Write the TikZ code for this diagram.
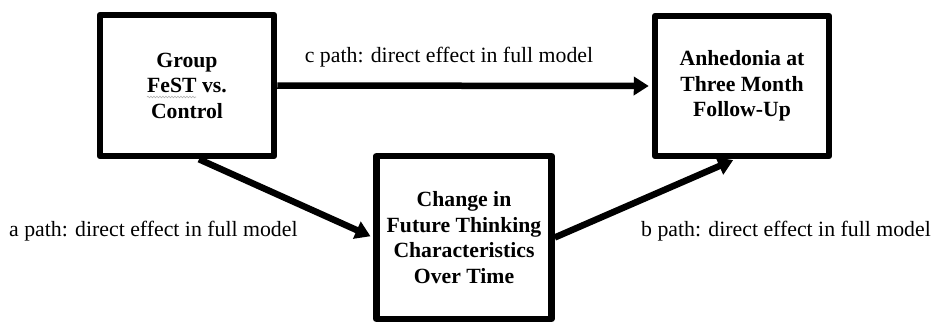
\documentclass[tikz,border=0pt]{standalone}
\usepackage{fontspec}
\setmainfont{Liberation Serif}[BoldFont={Liberation Serif Bold}]
\usetikzlibrary{arrows.meta,decorations.pathmorphing}
\begin{document}
\begin{tikzpicture}[x=1pt,y=-1pt,
  box/.style={draw=black,line width=6.5pt,line join=round,fill=white,
    inner sep=0pt,align=center,
    font=\fontsize{21.7}{25.5}\selectfont\bfseries},
  arr/.style={line width=6.5pt,-{Triangle[length=15pt,width=18pt]}},
  lbl/.style={inner sep=0pt,font=\fontsize{21.8}{25}\selectfont}]
\useasboundingbox[fill=white] (0,0) rectangle (932,322);
\node[box,minimum width=174pt,minimum height=141pt] (grp) at (187,85.5)
  {Group\\FeST vs.\\Control};
\node[box,minimum width=174pt,minimum height=140pt] (anh) at (742,86)
  {Anhedonia at\\Three Month\\Follow-Up};
\node[box,minimum width=175pt,minimum height=163pt] (mid) at (464,237.5)
  {Change in\\Future Thinking\\Characteristics\\Over Time};
\draw[arr,shorten >=3pt] (grp.east) -- (anh.west);
\draw[arr,shorten >=3pt] ([xshift=12pt]grp.south) -- (mid.west);
\draw[arr,shorten >=2pt] (mid.east) -- ([xshift=-7pt]anh.south);
\node[lbl] (lc) at (449,57) {c path: direct effect in full model};
\node[lbl,anchor=west] (la) at (9,231) {a path: direct effect in full model};
\node[lbl,anchor=east] (lb) at (931,231) {b path: direct effect in full model};
\coordinate (sq1) at (147,97);
\coordinate (sq2) at (196,97);
\draw[gray!60,line width=0.6pt,decorate,decoration={snake,amplitude=0.8pt,segment length=3pt}] (sq1) -- (sq2);
\end{tikzpicture}
\end{document}
